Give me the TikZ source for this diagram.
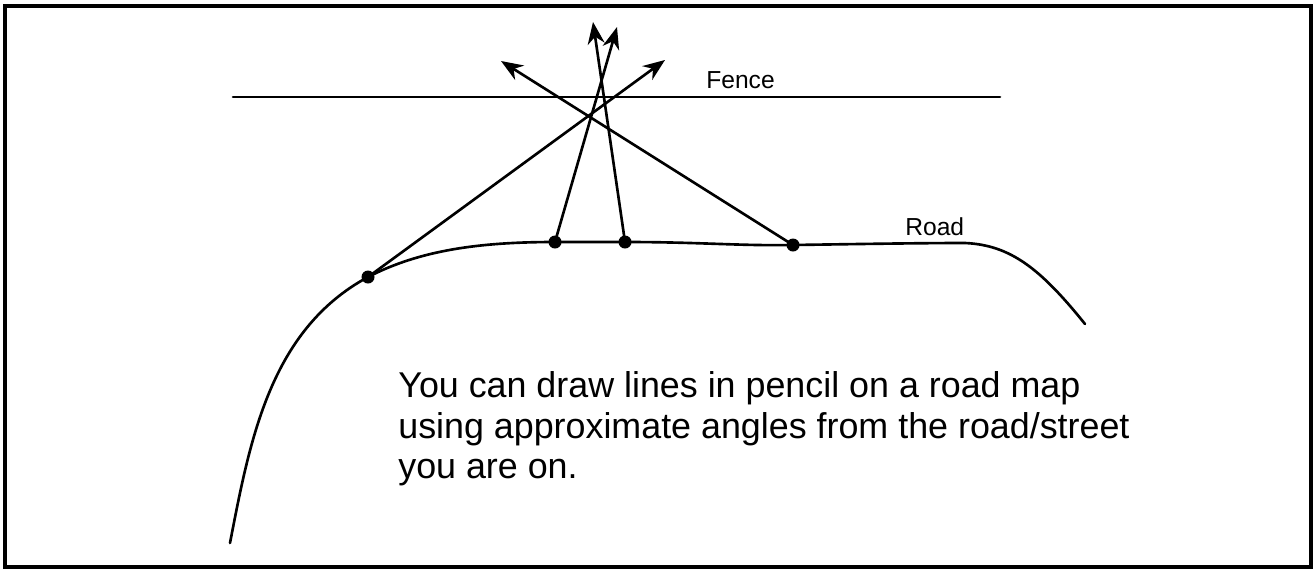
\documentclass[tikz,border=0pt]{standalone}
\usepackage{fontspec}
\setmainfont{Liberation Sans}
\usetikzlibrary{arrows.meta}

\begin{document}
\begin{tikzpicture}[
  x=0.02cm, y=-0.02cm,
  ln/.style={line width=1.5pt, line cap=round},
  arr/.style={ln, -{Stealth[length=4.4mm, width=3.4mm]}},
  pt/.style={circle, fill, inner sep=0pt, minimum size=2.6mm},
  lab/.style={font=\fontsize{14}{16}\selectfont, inner sep=0pt}]
\useasboundingbox (0,0) rectangle (1315,569);
\draw[line width=1.8pt] (5,6) rectangle (1311,567);
% fence
\coordinate (f1) at (233,97);
\coordinate (f2) at (1000,97);
\draw[ln] (f1) -- (f2);
\node[lab, anchor=base west] (fence) at (706,88) {Fence};
% road
\draw[ln] (230,543) .. controls (250,440) and (270,330) .. (368,277)
  .. controls (420,250) and (480,242) .. (555,242) -- (625,242)
  .. controls (700,242) and (740,246) .. (793,245)
  .. controls (860,244) and (920,243) .. (965,243)
  .. controls (1010,245) and (1040,268) .. (1085,324);
\node[lab, anchor=base west] (road) at (905,235) {Road};
% sightings
\node[pt] (p1) at (368,277) {};
\node[pt] (p2) at (555,242) {};
\node[pt] (p3) at (625,242) {};
\node[pt] (p4) at (793,245) {};
\coordinate (t1) at (665,60);
\coordinate (t2) at (617,27);
\coordinate (t3) at (593,22);
\coordinate (t4) at (501,61);
\foreach \a/\b in {p1/t1,p2/t2,p3/t3,p4/t4} \draw[arr] (\a.center) -- (\b);
\node[anchor=north west, inner sep=0pt, align=left, font=\fontsize{20.4}{23.2}\selectfont] (note) at (398,371)
  {You can draw lines in pencil on a road map\\using approximate angles from the road/street\\you are on.};
\end{tikzpicture}
\end{document}
